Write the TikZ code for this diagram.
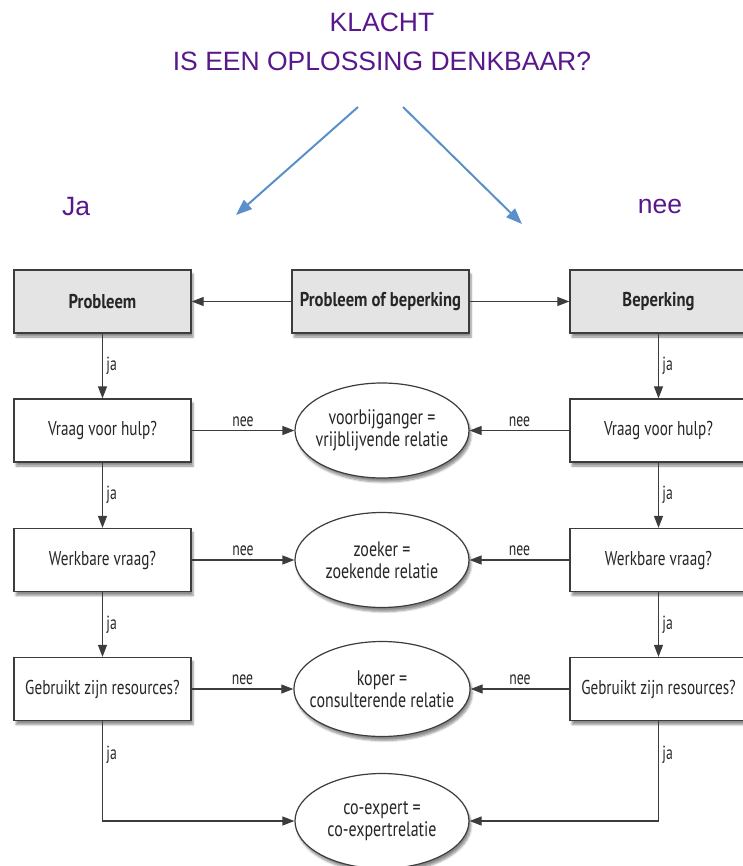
\documentclass[tikz,border=0pt]{standalone}
\usepackage{fontspec}
\setmainfont{Liberation Sans}
\newfontfamily\flowfont[FakeStretch=0.76,BoldFeatures={FakeStretch=0.83}]{PT Sans}
\newfontfamily\lblfont[FakeStretch=0.72]{PT Sans}
\usetikzlibrary{shapes.geometric,arrows.meta,shadows.blur}
\definecolor{titlepurple}{RGB}{88,24,140}
\definecolor{arrowblue}{RGB}{90,143,203}
\definecolor{boxgray}{RGB}{228,228,228}
\definecolor{edgegray}{RGB}{60,60,60}
\begin{document}
\begin{tikzpicture}[x=1pt,y=-1pt,
  title/.style={font=\fontsize{26.5}{30}\selectfont, text=titlepurple, inner sep=0pt},
  bluearrow/.style={draw=arrowblue, line width=2pt, -{Triangle[length=16pt,width=12pt]}},
  flowbox/.style={rectangle, draw=edgegray, line width=1.3pt, fill=white,
    minimum width=177pt, minimum height=63pt,
    font=\flowfont\fontsize{20}{22}\selectfont, text=black!85,
    blur shadow={shadow xshift=2pt, shadow yshift=-4pt, shadow blur steps=6, shadow opacity=45}},
  graybox/.style={flowbox, fill=boxgray, font=\flowfont\bfseries\fontsize{20}{22}\selectfont},
  ovalnode/.style={ellipse, draw=edgegray, line width=1.2pt, fill=white,
    minimum width=174pt, minimum height=95pt, align=center, inner xsep=-10pt, inner ysep=0pt,
    font=\flowfont\fontsize{21}{22}\selectfont, text=black!85,
    blur shadow={shadow xshift=2pt, shadow yshift=-4pt, shadow blur steps=6, shadow opacity=45}},
  conn/.style={draw=edgegray, line width=1.2pt, -{Triangle[length=12pt,width=9pt]}},
  lbl/.style={font=\lblfont\fontsize{19}{20}\selectfont, text=black!85}
]
\useasboundingbox (0,0) rectangle (743,866);

% title
\node[title] (klacht) at (382,22) {KLACHT};
\node[title] (vraag) at (382,61) {IS EEN OPLOSSING DENKBAAR?};
\node[title] (ja) at (76,207) {Ja};
\node[title] (nee) at (660,207) {nee};
\coordinate (bl0) at (358,107);
\coordinate (bl1) at (236,215);
\coordinate (br0) at (403,107);
\coordinate (br1) at (522,224);
\draw[bluearrow] (bl0) -- (bl1);
\draw[bluearrow] (br0) -- (br1);

% row 1
\node[graybox] (prob) at (102.5,301.5) {Probleem};
\node[graybox] (pob) at (380.5,301.5) {Probleem of beperking};
\node[graybox] (bep) at (658.5,301.5) {Beperking};

% left column
\node[flowbox] (vl) at (102.5,430.5) {Vraag voor hulp?};
\node[flowbox] (wl) at (102.5,560) {Werkbare vraag?};
\node[flowbox] (gl) at (102.5,689) {Gebruikt zijn resources?};

% right column
\node[flowbox] (vr) at (658.5,430.5) {Vraag voor hulp?};
\node[flowbox] (wr) at (658.5,560) {Werkbare vraag?};
\node[flowbox] (gr) at (658.5,689) {Gebruikt zijn resources?};

% ovals
\node[ovalnode] (o1) at (382,430.5) {voorbijganger =\\vrijblijvende relatie};
\node[ovalnode] (o2) at (382,560) {zoeker =\\zoekende relatie};
\node[ovalnode] (o3) at (382,689) {koper =\\consulterende relatie};
\node[ovalnode] (o4) at (382,821) {co-expert =\\co-expertrelatie};

% connectors
\draw[conn] (pob) -- (prob);
\draw[conn] (pob) -- (bep);
\draw[conn] (prob) -- node[lbl,right]{ja} (vl);
\draw[conn] (vl) -- node[lbl,right]{ja} (wl);
\draw[conn] (wl) -- node[lbl,right]{ja} (gl);
\draw[conn] (bep) -- node[lbl,right]{ja} (vr);
\draw[conn] (vr) -- node[lbl,right]{ja} (wr);
\draw[conn] (wr) -- node[lbl,right]{ja} (gr);
\draw[conn] (vl) -- node[lbl,above]{nee} (o1);
\draw[conn] (wl) -- node[lbl,above]{nee} (o2);
\draw[conn] (gl) -- node[lbl,above]{nee} (o3);
\draw[conn] (vr) -- node[lbl,above]{nee} (o1);
\draw[conn] (wr) -- node[lbl,above]{nee} (o2);
\draw[conn] (gr) -- node[lbl,above]{nee} (o3);
\draw[conn] (gl) |- node[lbl,right,pos=0.17]{ja} (o4);
\draw[conn] (gr) |- node[lbl,right,pos=0.17]{ja} (o4);
\end{tikzpicture}
\end{document}
